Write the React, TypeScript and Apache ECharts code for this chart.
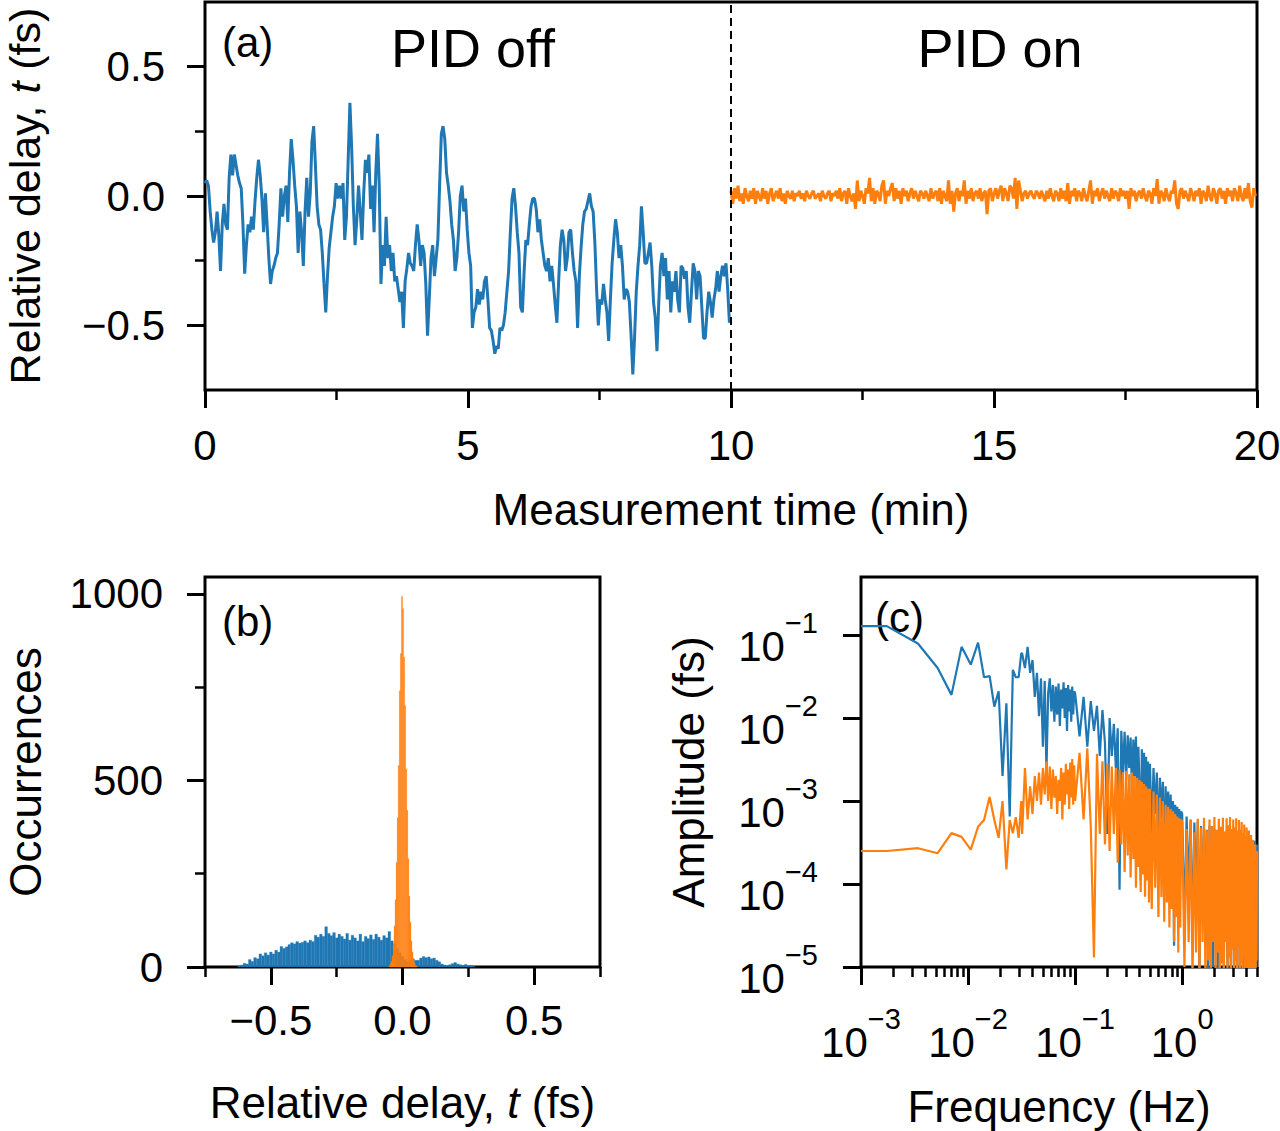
import React, { useEffect, useRef } from "react";
import * as echarts from "echarts";

const FONT = "'Liberation Sans', Arial, Helvetica, sans-serif";
const BLUE = "#1f77b4";
const ORANGE = "#ff7f0e";
const BLACK = "#000";

// ---------- (a) relative delay vs time ----------
const OFF_TIME_SPAN = [0, 9.97]; // minutes, PID off record
const ON_TIME_SPAN = [10, 19.97]; // minutes, PID on record
const DELAY_OFF = [
  0.05, 0.06, 0.04, -0.06, -0.13, -0.18, -0.14, -0.06, -0.15, -0.29,
  -0.11, -0.03, -0.11, -0.13, 0.07, 0.16, 0.08, 0.16, 0.12, 0.08,
  0.05, 0.03, -0.11, -0.3, -0.19, -0.11, -0.14, -0.08, -0.13, -0.02,
  0.07, 0.14, 0.08, -0.01, -0.14, 0.01, -0.11, -0.24, -0.34, -0.29,
  -0.27, -0.24, -0.22, -0.11, 0.03, -0.08, 0.0, 0.04, -0.1, 0.09,
  0.22, 0.14, 0.04, -0.04, -0.22, -0.06, -0.14, -0.27, -0.06, 0.07,
  -0.08, 0.01, 0.21, 0.27, 0.12, -0.04, -0.11, -0.13, -0.22, -0.34,
  -0.45, -0.31, -0.2, -0.14, -0.08, -0.04, 0.05, -0.01, 0.04, -0.01,
  0.05, -0.17, -0.08, 0.14, 0.36, 0.19, -0.04, -0.19, -0.09, 0.04,
  -0.06, -0.17, 0.01, 0.14, 0.09, 0.16, -0.05, 0.04, -0.14, 0.09,
  0.24, 0.04, -0.34, -0.19, -0.27, -0.08, -0.24, -0.19, -0.29, -0.22,
  -0.33, -0.31, -0.36, -0.41, -0.37, -0.51, -0.33, -0.28, -0.22, -0.26,
  -0.27, -0.29, -0.19, -0.11, -0.17, -0.27, -0.19, -0.22, -0.34, -0.54,
  -0.4, -0.24, -0.19, -0.31, -0.24, -0.17, 0.04, 0.24, 0.27, 0.22,
  0.09, 0.04, -0.02, -0.11, -0.17, -0.29, -0.24, -0.14, 0.0, 0.04,
  -0.06, -0.01, -0.13, -0.22, -0.27, -0.51, -0.45, -0.43, -0.36, -0.42,
  -0.37, -0.4, -0.33, -0.31, -0.4, -0.51, -0.52, -0.56, -0.61, -0.58,
  -0.59, -0.51, -0.52, -0.5, -0.45, -0.37, -0.29, -0.14, -0.01, 0.03,
  -0.04, -0.14, -0.22, -0.43, -0.45, -0.29, -0.17, -0.19, -0.11, -0.04,
  -0.01, -0.01, -0.05, -0.14, -0.09, -0.17, -0.22, -0.27, -0.29, -0.24,
  -0.33, -0.27, -0.34, -0.42, -0.49, -0.33, -0.19, -0.13, -0.17, -0.29,
  -0.24, -0.14, -0.13, -0.22, -0.29, -0.33, -0.51, -0.31, -0.2, -0.11,
  -0.06, -0.05, -0.02, 0.01, -0.04, -0.06, -0.18, -0.36, -0.5, -0.4,
  -0.42, -0.34, -0.4, -0.45, -0.56, -0.4, -0.26, -0.17, -0.09, -0.14,
  -0.24, -0.19, -0.27, -0.4, -0.36, -0.37, -0.41, -0.54, -0.69, -0.55,
  -0.37, -0.27, -0.19, -0.04, -0.14, -0.26, -0.26, -0.22, -0.18, -0.27,
  -0.41, -0.47, -0.6, -0.42, -0.27, -0.22, -0.31, -0.24, -0.4, -0.29,
  -0.45, -0.33, -0.37, -0.29, -0.4, -0.45, -0.27, -0.28, -0.32, -0.29,
  -0.43, -0.49, -0.37, -0.26, -0.29, -0.4, -0.29, -0.31, -0.43, -0.55,
  -0.55, -0.45, -0.37, -0.41, -0.47, -0.4, -0.36, -0.29, -0.37, -0.31,
  -0.27, -0.31, -0.26, -0.36, -0.49,
];
const DELAY_ON = [
  0.02, -0.03, 0.03, -0.01, 0.04, -0.02, 0.01, -0.03, 0.03, 0.0, -0.02, 0.02, -0.01, 0.03, -0.03, 0.02, 0.0, -0.02, 0.03, -0.01,
  0.02, -0.03, 0.01, 0.03, -0.02, 0.0, 0.02, -0.01, 0.03, -0.02, 0.01, -0.03, 0.02, 0.0, -0.01, 0.02, -0.02, 0.01, 0.0, 0.02,
  -0.01, 0.01, -0.02, 0.02, 0.0, -0.01, 0.01, 0.02, -0.01, 0.0, 0.01, -0.02, 0.02, 0.0, -0.01, 0.01, 0.02, -0.02, 0.01, 0.0,
  0.02, -0.01, 0.03, -0.02, 0.01, 0.02, -0.03, 0.03, 0.0, -0.02, 0.01, -0.05, 0.06, -0.02, 0.02, 0.0, -0.03, 0.03, 0.01, 0.07,
  -0.02, 0.03, -0.03, 0.02, 0.01, -0.02, 0.04, 0.06, -0.03, 0.02, 0.0, 0.03, 0.05, -0.02, 0.03, -0.01, 0.02, -0.03, 0.03, 0.0,
  0.02, -0.02, 0.01, 0.03, -0.01, 0.02, 0.0, -0.02, 0.02, 0.01, -0.01, 0.02, 0.0, -0.02, 0.03, -0.01, 0.01, 0.02, -0.02, 0.03,
  -0.03, 0.02, 0.0, -0.02, 0.06, -0.03, 0.02, -0.06, 0.01, 0.03, -0.02, 0.02, 0.0, 0.06, -0.03, 0.02, -0.01, 0.03, -0.02, 0.01,
  0.02, -0.01, 0.03, -0.02, 0.01, 0.02, -0.07, 0.02, 0.03, -0.02, 0.01, 0.03, -0.01, 0.02, 0.04, -0.02, 0.03, 0.01, -0.02, 0.04,
  0.03, -0.01, 0.07, -0.05, 0.06, 0.02, -0.02, 0.01, 0.02, -0.01, 0.01, 0.02, 0.0, -0.01, 0.02, 0.01, -0.01, 0.02, 0.0, -0.02,
  0.02, -0.01, 0.03, 0.0, -0.02, 0.02, 0.01, -0.02, 0.03, -0.01, 0.02, -0.02, 0.05, -0.03, 0.02, 0.0, 0.03, -0.02, 0.02, 0.01,
  -0.02, 0.03, 0.0, -0.02, 0.02, 0.06, -0.03, 0.02, 0.0, 0.03, -0.02, 0.01, 0.03, -0.01, 0.02, 0.0, -0.02, 0.03, -0.01, 0.02,
  0.01, -0.02, 0.03, 0.0, 0.02, -0.01, 0.02, -0.05, 0.03, 0.0, 0.02, -0.02, 0.01, 0.02, -0.01, 0.03, 0.0, -0.02, 0.02, 0.01,
  -0.03, 0.03, 0.0, 0.065, -0.03, 0.02, 0.01, -0.02, 0.03, 0.0, -0.02, 0.02, 0.01, 0.06, -0.03, -0.05, 0.02, 0.03, -0.01, 0.02,
  0.0, -0.02, 0.03, 0.01, -0.02, 0.02, 0.0, 0.03, -0.03, 0.02, 0.01, -0.02, 0.04, 0.0, -0.02, 0.03, 0.01, -0.03, 0.02, 0.03,
  -0.01, 0.02, -0.03, 0.03, 0.0, 0.02, -0.02, 0.03, 0.01, -0.02, 0.04, 0.0, -0.02, 0.03, -0.01, 0.05, -0.02, -0.045, 0.03, 0.0,
];
const A_X_LABELS = [0, 5, 10, 15, 20];
const A_Y_MAJOR = [-0.5, 0, 0.5];
const A_Y_MINOR = [-0.25, 0.25];

// ---------- (b) histogram ----------
const HIST_OFF_FIRST_CENTER = -0.62;
const HIST_OFF_BIN = 0.01;
const HIST_OFF_COUNTS = [
  3, 5, 10, 8, 20, 15, 25, 22, 35, 30,
  38, 32, 40, 35, 45, 40, 55, 50, 54, 60,
  65, 62, 68, 64, 66, 70, 65, 72, 68, 85,
  80, 88, 82, 108, 90, 84, 92, 78, 88, 82,
  75, 90, 72, 85, 78, 70, 88, 68, 82, 76,
  86, 74, 88, 80, 72, 84, 78, 95, 70, 62,
  50, 38, 28, 20, 15, 18, 22, 18, 18, 24,
  28, 25, 27, 22, 24, 18, 14, 8, 5, 3,
  6, 9, 12, 8, 6, 4, 7, 3, 4, 2,
];
const HIST_ON_FIRST_CENTER = -0.05;
const HIST_ON_BIN = 0.004;
const HIST_ON_COUNTS = [
  3, 8, 15, 30, 60, 110, 180, 280, 400, 540, 740, 840, 993, 960,
  830, 700, 530, 420, 290, 190, 120, 70, 40, 20, 10, 5, 2,
];
const B_X_MAJOR = [-0.5, 0, 0.5];
const B_X_MINOR = [-0.75, -0.25, 0.25, 0.75];
const B_Y_MAJOR = [0, 500, 1000];
const B_Y_MINOR = [250, 750];

// ---------- (c) amplitude spectrum ----------
const FREQ_LOW = [
  0.001, 0.00174, 0.0034, 0.0052, 0.007, 0.0087, 0.0106, 0.0124, 0.0141, 0.0159,
  0.0176, 0.0193, 0.021, 0.0228, 0.0245, 0.0262, 0.0279, 0.0297, 0.0314,
];
// higher-frequency sampling: [start, step, count]
const FREQ_HIGH_SEGMENTS = [
  [0.032, 0.002, 34],
  [0.1, 0.01, 40],
  [0.5, 0.02, 25],
  [1.0, 0.05, 81],
];
const AMP_OFF_LOW = [
  0.128, 0.128, 0.079, 0.04, 0.019, 0.072, 0.044, 0.081, 0.031, 0.032,
  0.0137, 0.021, 0.002, 0.015, 0.00065, 0.038, 0.031, 0.031, 0.06,
];
const AMP_ON_LOW = [
  2.5e-4, 2.5e-4, 2.7e-4, 2.35e-4, 4.1e-4, 3.7e-4, 2.6e-4, 4.9e-4, 5.9e-4, 1.12e-3,
  5.9e-4, 3.6e-4, 1.0e-3, 1.5e-4, 5.9e-4, 4.1e-4, 6.4e-4, 3.6e-4, 1.0e-3,
];
const AMP_OFF_HIGH = [
  // 0.032 .. 0.098
  0.06, 0.04, 0.072, 0.035, 0.05, 0.018, 0.035, 0.0105, 0.03, 0.0045,
  0.028, 0.0023, 0.02, 0.03, 0.012, 0.025, 0.009, 0.024, 0.011, 0.026,
  0.008, 0.022, 0.013, 0.027, 0.01, 0.023, 0.007, 0.025, 0.012, 0.022,
  0.009, 0.024, 0.011, 0.021,
  // 0.10 .. 0.49
  0.02, 0.006, 0.018, 0.0045, 0.016, 0.007, 0.014, 0.0035, 0.0125, 0.005,
  0.0004, 0.01, 0.0035, 0.0085, 0.0025, 0.0075, 0.000085, 0.007, 0.0022, 0.0068,
  0.0018, 0.0062, 0.0025, 0.0058, 0.0012, 0.0055, 0.002, 0.006, 0.0009, 0.0045,
  0.0015, 0.00011, 0.0042, 0.0012, 0.0038, 0.0008, 0.0034, 0.0011, 0.003, 0.0006,
  // 0.50 .. 0.98
  0.0028, 0.0004, 0.0025, 0.0007, 0.0022, 0.0003, 0.0019, 0.0006, 0.0017, 0.00015,
  0.0015, 0.0005, 0.0013, 0.0002, 0.0012, 0.0004, 0.001, 0.000018, 0.0009, 0.0003,
  0.00085, 0.0001, 0.0008, 0.0002, 0.00075,
  // 1.00 .. 5.00
  7e-4, 3e-5, 6.5e-4, 1e-4, 6e-4, 2e-5, 5.5e-4, 6e-5, 5.8e-4, 8e-6,
  5e-4, 4e-5, 4.8e-4, 2e-5, 4.5e-4, 9e-6, 5e-4, 3e-5, 4.4e-4, 1e-5,
  4.6e-4, 5e-5, 4.2e-4, 7e-6, 4.5e-4, 2e-5, 4e-4, 4e-5, 4.3e-4, 8e-6,
  4.1e-4, 3e-5, 4.4e-4, 1e-5, 4e-4, 5e-5, 4.2e-4, 9e-6, 3.9e-4, 2e-5,
  4.1e-4, 6e-6, 4e-4, 4e-5, 3.8e-4, 1e-5, 4e-4, 3e-5, 3.7e-4, 8e-6,
  3.9e-4, 2e-5, 3.6e-4, 5e-5, 3.8e-4, 7e-6, 3.5e-4, 2e-5, 3.7e-4, 1e-5,
  3.4e-4, 4e-5, 3.6e-4, 8e-6, 3.7e-4, 2e-5, 3.3e-4, 1e-5, 3.5e-4, 3e-5,
  3.2e-4, 9e-6, 3.4e-4, 2e-5, 3.1e-4, 1e-5, 3.3e-4, 2e-5, 3e-4, 1e-5,
  3e-4,
];
const AMP_ON_HIGH = [
  // 0.032 .. 0.098
  4e-4, 2.5e-3, 6e-4, 1.5e-3, 7e-4, 2.0e-3, 1.0e-3, 2.2e-3, 9e-4, 2.5e-3,
  1.2e-3, 3.0e-3, 1.0e-3, 2.6e-3, 8e-4, 2.4e-3, 1.1e-3, 2.0e-3, 7e-4, 1.8e-3,
  1.0e-3, 2.5e-3, 6e-4, 2.2e-3, 9e-4, 2.8e-3, 1.2e-3, 2.4e-3, 8e-4, 2.9e-3,
  1.1e-3, 3.2e-3, 9e-4, 2.7e-3,
  // 0.10 .. 0.49
  1.0e-3, 3.8e-3, 6e-4, 4.3e-3, 5e-4, 1.3e-5, 3.7e-3, 4e-4, 3.0e-3, 3e-4,
  2.8e-3, 2.5e-4, 2.6e-3, 4e-4, 2.5e-3, 1.8e-4, 2.4e-3, 3e-4, 2.2e-3, 1.4e-4,
  2.3e-3, 2.2e-4, 2.1e-3, 1.2e-4, 2.2e-3, 2e-4, 2.0e-3, 9e-5, 1.9e-3, 1.6e-4,
  1.8e-3, 8e-5, 1.7e-3, 1.3e-4, 1.6e-3, 7e-5, 1.5e-3, 1.1e-4, 1.4e-3, 6e-5,
  // 0.50 .. 0.98
  1.4e-3, 5e-5, 1.3e-3, 9e-5, 1.2e-3, 4e-5, 1.1e-3, 7e-5, 1.0e-3, 3.5e-5,
  9e-4, 6e-5, 8.5e-4, 3e-5, 8e-4, 5e-5, 7.5e-4, 2e-5, 7e-4, 4e-5,
  6.5e-4, 1.5e-5, 6.2e-4, 3e-5, 6e-4,
  // 1.00 .. 5.00
  5.5e-4, 1e-5, 4.6e-4, 2e-5, 5.9e-4, 7e-6, 4.2e-4, 1.5e-5, 6.1e-4, 8e-6,
  4.8e-4, 2e-5, 6.3e-4, 6e-6, 4.4e-4, 1.2e-5, 6e-4, 7e-6, 5e-4, 2e-5,
  6.4e-4, 8e-6, 4.5e-4, 1.5e-5, 6.1e-4, 6e-6, 4.9e-4, 1.1e-5, 6.3e-4, 7e-6,
  4.3e-4, 2e-5, 6.2e-4, 8e-6, 5.1e-4, 1.3e-5, 6.4e-4, 6e-6, 4.6e-4, 1.6e-5,
  6e-4, 7e-6, 4.8e-4, 1.2e-5, 6.2e-4, 8e-6, 4.4e-4, 1.8e-5, 5.9e-4, 6e-6,
  4.5e-4, 1.1e-5, 5.6e-4, 7e-6, 4.1e-4, 1.4e-5, 5.2e-4, 8e-6, 3.8e-4, 1.2e-5,
  4.8e-4, 6e-6, 3.5e-4, 1.5e-5, 4.4e-4, 7e-6, 3.2e-4, 1.1e-5, 3.9e-4, 8e-6,
  2.8e-4, 1.3e-5, 3.4e-4, 6e-6, 2.6e-4, 1e-5, 3e-4, 7e-6, 2.4e-4, 1.2e-5,
  2.5e-4,
];
const C_X_MAJOR = [1e-3, 1e-2, 1e-1, 1];
const C_X_MINOR = [
  0.002, 0.003, 0.004, 0.005, 0.006, 0.007, 0.008, 0.009,
  0.02, 0.03, 0.04, 0.05, 0.06, 0.07, 0.08, 0.09,
  0.2, 0.3, 0.4, 0.5, 0.6, 0.7, 0.8, 0.9,
  2, 3, 4, 5,
];
const C_Y_MAJOR = [1e-5, 1e-4, 1e-3, 1e-2, 1e-1];

// ---------- helpers ----------
function timeSeries(values: number[], span: number[]) {
  const n = values.length;
  return values.map((v, i) => [span[0] + (i * (span[1] - span[0])) / (n - 1), v]);
}
function histData(first: number, bin: number, counts: number[]) {
  return counts.map((c, i) => {
    const center = first + i * bin;
    return [center - bin / 2, center + bin / 2, c];
  });
}
function highFreqs() {
  const out: number[] = [];
  FREQ_HIGH_SEGMENTS.forEach(([s, st, n]) => {
    for (let i = 0; i < n; i++) out.push(Number((s + i * st).toFixed(4)));
  });
  return out;
}
function spectrum(lowAmp: number[], highAmp: number[]) {
  const hf = highFreqs();
  const pts: number[][] = FREQ_LOW.map((f, i) => [f, lowAmp[i]]);
  hf.forEach((f, i) => pts.push([f, highAmp[i]]));
  return pts;
}
const fmtSigned = (v: number) => (v < 0 ? "\u2212" : "") + Math.abs(v).toFixed(1);
const fmtPow = (v: number) => {
  const n = Math.round(Math.log10(v));
  return `{b|10}{s|${n < 0 ? "\u2212" : ""}${Math.abs(n)}}`;
};

const TICK_FS = 42;
const NAME_FS = 43;
const powRich = {
  b: { fontSize: TICK_FS, fontFamily: FONT, color: BLACK, lineHeight: 42, verticalAlign: "bottom" },
  s: { fontSize: 29, fontFamily: FONT, color: BLACK, lineHeight: 29, verticalAlign: "bottom", padding: [0, 0, 30, 0] },
};
const nameRich = {
  i: { fontStyle: "italic", fontSize: NAME_FS, fontFamily: FONT, color: BLACK, lineHeight: 44 },
};
const labelStyle = { fontSize: TICK_FS, fontFamily: FONT, color: BLACK };
const nameStyle = { fontSize: NAME_FS, fontFamily: FONT, color: BLACK, lineHeight: 44, rich: nameRich };
const majorTick = (values: number[]) => ({
  show: true,
  customValues: values,
  length: 18,
  lineStyle: { color: BLACK, width: 3 },
});
const minorAxisTick = (values: number[]) => ({
  show: true,
  customValues: values,
  length: 10,
  lineStyle: { color: BLACK, width: 2.5 },
});
const hidden = {
  axisLine: { show: false },
  axisLabel: { show: false },
  splitLine: { show: false },
};

const histRender = (color: string) => (params: any, api: any) => {
  const lo = api.value(0);
  const hi = api.value(1);
  const c = api.value(2);
  const p0 = api.coord([lo, c]);
  const p1 = api.coord([hi, 0]);
  return {
    type: "rect",
    shape: { x: p0[0], y: p0[1], width: p1[0] - p0[0], height: p1[1] - p0[1] },
    style: { fill: color, stroke: color, lineWidth: 0.3 },
  };
};

export default function App() {
  const ref = useRef<HTMLDivElement>(null);
  useEffect(() => {
    document.body.style.margin = "0";
    if (!ref.current) return;
    const chart = echarts.init(ref.current, undefined, { renderer: "svg" });
    const gridBase = {
      show: true, borderColor: BLACK, borderWidth: 3, backgroundColor: "transparent",
      containLabel: false, outerBoundsMode: "none",
    };
    const option: any = {
      animation: false,
      backgroundColor: "#fff",
      textStyle: { fontFamily: FONT },
      grid: [
        { ...gridBase, left: 205, top: 2, width: 1052, height: 388 },
        { ...gridBase, left: 205, top: 577, width: 395, height: 390 },
        { ...gridBase, left: 861, top: 577, width: 396, height: 390 },
      ],
      xAxis: [
        {
          gridIndex: 0, type: "value", min: 0, max: 20, interval: 5, position: "bottom",
          axisLine: { show: false, onZero: false },
          axisTick: { show: true, length: 18, lineStyle: { color: BLACK, width: 3 } },
          minorTick: { show: true, splitNumber: 2, length: 10, lineStyle: { color: BLACK, width: 2.5 } },
          axisLabel: { ...labelStyle, margin: 34, customValues: A_X_LABELS, formatter: (v: number) => String(v) },
          splitLine: { show: false },
          name: "Measurement time (min)", nameLocation: "middle", nameGap: 97,
          nameTextStyle: { ...nameStyle, fontSize: 44 },
        },
        {
          gridIndex: 1, type: "value", min: -0.75, max: 0.75, position: "bottom",
          axisLine: { show: false, onZero: false },
          axisTick: majorTick(B_X_MAJOR),
          axisLabel: { ...labelStyle, margin: 32, customValues: B_X_MAJOR, formatter: fmtSigned },
          splitLine: { show: false },
          name: "Relative delay, {i|t} (fs)", nameLocation: "middle", nameGap: 113,
          nameTextStyle: { ...nameStyle, fontSize: 44, rich: { i: { ...nameRich.i, fontSize: 44 } } },
        },
        {
          gridIndex: 1, type: "value", min: -0.75, max: 0.75, position: "bottom",
          ...hidden, axisLine: { show: false, onZero: false },
          axisTick: minorAxisTick(B_X_MINOR),
        },
        {
          gridIndex: 2, type: "log", logBase: 10, min: 0.001, max: 5, position: "bottom",
          axisLine: { show: false, onZero: false },
          axisTick: majorTick(C_X_MAJOR),
          axisLabel: { ...labelStyle, margin: 54, customValues: C_X_MAJOR, formatter: fmtPow, rich: powRich },
          splitLine: { show: false },
          name: "Frequency (Hz)", nameLocation: "middle", nameGap: 117,
          nameTextStyle: { ...nameStyle, fontSize: 44 },
        },
        {
          gridIndex: 2, type: "log", logBase: 10, min: 0.001, max: 5, position: "bottom",
          ...hidden, axisLine: { show: false, onZero: false },
          axisTick: minorAxisTick(C_X_MINOR),
        },
      ],
      yAxis: [
        {
          gridIndex: 0, type: "value", min: -0.75, max: 0.75, position: "left",
          axisLine: { show: false, onZero: false },
          axisTick: majorTick(A_Y_MAJOR),
          axisLabel: { ...labelStyle, margin: 40, customValues: A_Y_MAJOR, formatter: fmtSigned },
          splitLine: { show: false },
          name: "Relative delay, {i|t} (fs)", nameLocation: "middle", nameGap: 158, nameTextStyle: nameStyle,
        },
        {
          gridIndex: 0, type: "value", min: -0.75, max: 0.75, position: "left",
          ...hidden, axisLine: { show: false, onZero: false },
          axisTick: minorAxisTick(A_Y_MINOR),
        },
        {
          gridIndex: 1, type: "value", min: 0, max: 1045, position: "left",
          axisLine: { show: false, onZero: false },
          axisTick: majorTick(B_Y_MAJOR),
          axisLabel: { ...labelStyle, margin: 42, customValues: B_Y_MAJOR, formatter: (v: number) => String(v) },
          splitLine: { show: false },
          name: "Occurrences", nameLocation: "middle", nameGap: 158,
          nameTextStyle: { ...nameStyle, fontSize: 44 },
        },
        {
          gridIndex: 1, type: "value", min: 0, max: 1045, position: "left",
          ...hidden, axisLine: { show: false, onZero: false },
          axisTick: minorAxisTick(B_Y_MINOR),
        },
        {
          gridIndex: 2, type: "log", logBase: 10, min: 1e-5, max: 0.5, position: "left",
          axisLine: { show: false, onZero: false },
          axisTick: majorTick(C_Y_MAJOR),
          axisLabel: {
            ...labelStyle, margin: 43, customValues: C_Y_MAJOR, formatter: fmtPow, rich: powRich,
            padding: [22, 0, 0, 0],
          },
          splitLine: { show: false },
          name: "Amplitude (fs)", nameLocation: "middle", nameGap: 151,
          nameTextStyle: { ...nameStyle, fontSize: 44 },
        },
      ],
      series: [
        {
          name: "PID off", type: "line", xAxisIndex: 0, yAxisIndex: 0,
          data: timeSeries(DELAY_OFF, OFF_TIME_SPAN), showSymbol: false, symbol: "none",
          lineStyle: { color: BLUE, width: 3 }, itemStyle: { color: BLUE }, z: 3,
        },
        {
          name: "PID on", type: "line", xAxisIndex: 0, yAxisIndex: 0,
          data: timeSeries(DELAY_ON, ON_TIME_SPAN), showSymbol: false, symbol: "none",
          lineStyle: { color: ORANGE, width: 3 }, itemStyle: { color: ORANGE }, z: 3,
          markLine: {
            silent: true, symbol: ["none", "none"], label: { show: false },
            lineStyle: { color: BLACK, type: [8, 5], width: 2 },
            data: [{ xAxis: 10 }],
          },
        },
        {
          name: "Histogram PID off", type: "custom", xAxisIndex: 1, yAxisIndex: 2,
          renderItem: histRender(BLUE), encode: { x: [0, 1], y: [2] },
          data: histData(HIST_OFF_FIRST_CENTER, HIST_OFF_BIN, HIST_OFF_COUNTS), z: 2,
        },
        {
          name: "Histogram PID on", type: "custom", xAxisIndex: 1, yAxisIndex: 2,
          renderItem: histRender(ORANGE), encode: { x: [0, 1], y: [2] },
          data: histData(HIST_ON_FIRST_CENTER, HIST_ON_BIN, HIST_ON_COUNTS), z: 3,
        },
        {
          name: "Spectrum PID off", type: "line", xAxisIndex: 3, yAxisIndex: 4,
          data: spectrum(AMP_OFF_LOW, AMP_OFF_HIGH), showSymbol: false, symbol: "none",
          lineStyle: { color: BLUE, width: 2.2 }, itemStyle: { color: BLUE }, z: 2,
        },
        {
          name: "Spectrum PID on", type: "line", xAxisIndex: 3, yAxisIndex: 4,
          data: spectrum(AMP_ON_LOW, AMP_ON_HIGH), showSymbol: false, symbol: "none",
          lineStyle: { color: ORANGE, width: 2.2 }, itemStyle: { color: ORANGE }, z: 3,
        },
      ],
      graphic: [
        { type: "text", left: 222, top: 21, style: { text: "(a)", font: `42px ${FONT}`, fill: BLACK } },
        { type: "text", x: 473, y: 48, style: { text: "PID off", font: `54px ${FONT}`, fill: BLACK, textAlign: "center", textVerticalAlign: "middle" } },
        { type: "text", x: 1000, y: 48, style: { text: "PID on", font: `54px ${FONT}`, fill: BLACK, textAlign: "center", textVerticalAlign: "middle" } },
        { type: "text", left: 222, top: 600, style: { text: "(b)", font: `42px ${FONT}`, fill: BLACK } },
        { type: "text", left: 875, top: 596, style: { text: "(c)", font: `42px ${FONT}`, fill: BLACK } },
      ],
    };
    chart.setOption(option);
    return () => chart.dispose();
  }, []);
  return <div ref={ref} style={{ width: 1280, height: 1131 }} />;
}
